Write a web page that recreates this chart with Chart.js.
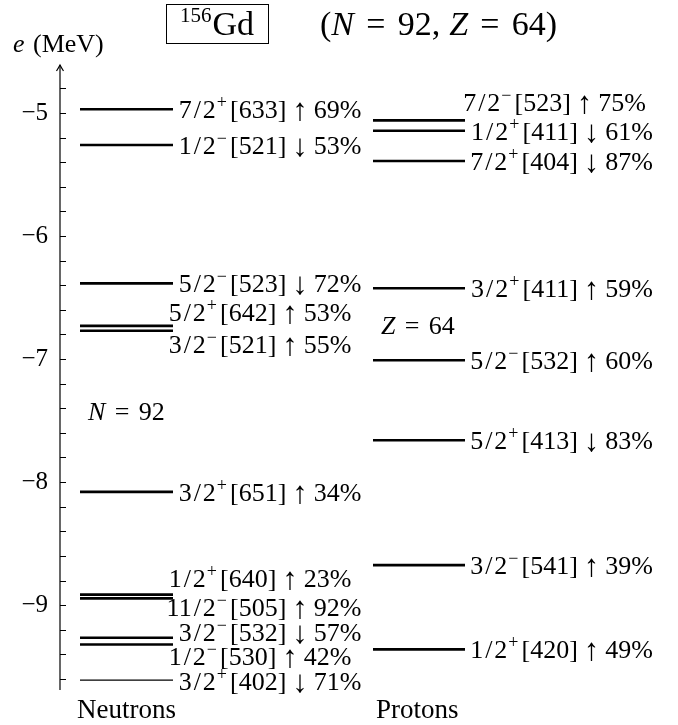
<!DOCTYPE html>
<html>
<head>
<meta charset="utf-8">
<script src="https://cdn.jsdelivr.net/npm/chart.js@4.4.0/dist/chart.umd.min.js"></script>
<style>
  body { margin: 0; background: #fff; }
  #wrap { width: 678px; height: 725px; }
</style>
</head>
<body>
<div id="wrap"><canvas id="levels" width="678" height="725"></canvas></div>
<script>
// 準位エネルギー (MeV) とラベル
const neutronEnergies = [-4.97, -5.26, -6.385, -6.73, -6.77, -8.08, -8.915, -8.945, -9.265, -9.32, -9.61];
const neutronLabels = [
  "7/2+[633]↑69%", "1/2−[521]↓53%", "5/2−[523]↓72%", "5/2+[642]↑53%",
  "3/2−[521]↑55%", "3/2+[651]↑34%", "1/2+[640]↑23%", "11/2−[505]↑92%",
  "3/2−[532]↓57%", "1/2−[530]↑42%", "3/2+[402]↓71%"
];
const protonEnergies = [-5.06, -5.145, -5.39, -6.425, -7.01, -7.66, -8.675, -9.36];
const protonLabels = [
  "7/2−[523]↑75%", "1/2+[411]↓61%", "7/2+[404]↓87%", "3/2+[411]↑59%",
  "5/2−[532]↑60%", "5/2+[413]↓83%", "3/2−[541]↑39%", "1/2+[420]↑49%"
];
const yTickValues = [-5, -6, -7, -8, -9];
const yMinorStep = 0.2;
const columnNames = ["Neutrons", "Protons"];
const gapLabels = ["N = 92", "Z = 64"];

// レイアウト (x は 0〜6.18 の任意単位)
const Y_MIN = -9.69, Y_MAX = -4.61, X_MAX = 6.18;
const colLine = [[0.2, 1.13], [3.13, 4.05]];
const colLabelRight = [3.015, 5.93];
const neutronShiftX = [0, 0, 0, -10, -10, 0, -10, 0, 0, -10, 0];
const neutronShiftY = [0, 0, 0, -14, 13, 0, -17, 9, -6, 12, 1];
const protonShiftX = [-7, 0, 0, 0, 0, 0, 0, 0];
const protonShiftY = [-18, 0, 0, 0, 0, 0, 0, 0];
const thinNeutron = [10];

const SERIF = '"Liberation Serif", "DejaVu Serif", serif';
const LABEL_SIZE = 26;

function levelDatasets(energies, col, thin) {
  return energies.map((e, i) => ({
    data: [{ x: colLine[col][0], y: e }, { x: colLine[col][1], y: e }],
    borderColor: "#000",
    borderWidth: thin.includes(i) ? 1.2 : 2.6,
    pointRadius: 0,
    showLine: true,
    fill: false,
  }));
}

// ラベル描画 (7/2^+[633] ↑ 69%)
function drawLevelLabel(ctx, text, xRight, yMid) {
  const m = text.match(/^(\d+)\/(\d)([+−])(\[\d+\])([↑↓])(\d+%)$/);
  const main = LABEL_SIZE + "px " + SERIF;
  const sup = Math.round(LABEL_SIZE * 0.7) + "px " + SERIF;
  const arrow = Math.round(LABEL_SIZE * 1.2) + "px " + SERIF;
  const parts = [
    { t: m[1], f: main },
    { gap: 2 },
    { t: "/", f: main },
    { gap: 2 },
    { t: m[2], f: main },
    { gap: 1 },
    { t: m[3], f: sup, dy: -10 },
    { gap: 3 },
    { t: m[4], f: main },
    { gap: 6 },
    { t: m[5], f: arrow, dy: 2 },
    { gap: 6 },
    { t: m[6], f: main },
  ];
  let total = 0;
  parts.forEach((p) => {
    if (p.gap) { p.w = p.gap; } else { ctx.font = p.f; p.w = ctx.measureText(p.t).width; }
    total += p.w;
  });
  let x = xRight - total;
  const base = yMid + 9;
  parts.forEach((p) => {
    if (!p.gap) {
      ctx.font = p.f;
      ctx.fillText(p.t, x, base + (p.dy || 0));
    }
    x += p.w;
  });
}

// "N = 92" のようにイタリック記号付きで描画
function drawMathEq(ctx, text, x, base, size) {
  const [sym, val] = text.split(" = ");
  const gap = size * 0.36;
  ctx.font = "italic " + size + "px " + SERIF;
  ctx.fillText(sym, x, base);
  x += ctx.measureText(sym).width + gap;
  ctx.font = size + "px " + SERIF;
  ctx.fillText("=", x, base);
  x += ctx.measureText("=").width + gap;
  ctx.fillText(val, x, base);
  return x + ctx.measureText(val).width;
}

const decorPlugin = {
  id: "decor",
  afterDraw(chart) {
    const ctx = chart.ctx;
    const ys = chart.scales.y;
    const xs = chart.scales.x;
    const area = chart.chartArea;
    ctx.save();
    ctx.fillStyle = "#000";
    ctx.strokeStyle = "#000";

    // 縦軸と矢印
    const ax = area.left;
    ctx.lineWidth = 1.2;
    ctx.beginPath();
    ctx.moveTo(ax, area.bottom);
    ctx.lineTo(ax, area.top);
    ctx.stroke();
    ctx.beginPath();
    ctx.moveTo(ax - 3.5, area.top + 6);
    ctx.quadraticCurveTo(ax - 1, area.top + 2, ax, area.top);
    ctx.quadraticCurveTo(ax + 1, area.top + 2, ax + 3.5, area.top + 6);
    ctx.stroke();

    // 目盛り
    ctx.lineWidth = 1;
    for (let v = -9.6; v <= -4.79; v += yMinorStep) {
      const y = Math.round(ys.getPixelForValue(v)) + 0.5;
      ctx.beginPath();
      ctx.moveTo(ax, y);
      ctx.lineTo(ax + 6, y);
      ctx.stroke();
    }

    // 準位ラベル
    ctx.textAlign = "left";
    ctx.textBaseline = "alphabetic";
    neutronLabels.forEach((t, i) => {
      drawLevelLabel(ctx, t, xs.getPixelForValue(colLabelRight[0]) + neutronShiftX[i],
        ys.getPixelForValue(neutronEnergies[i]) + neutronShiftY[i]);
    });
    protonLabels.forEach((t, i) => {
      drawLevelLabel(ctx, t, xs.getPixelForValue(colLabelRight[1]) + protonShiftX[i],
        ys.getPixelForValue(protonEnergies[i]) + protonShiftY[i]);
    });

    // N = 92, Z = 64
    drawMathEq(ctx, gapLabels[0], 88, ys.getPixelForValue(-7.42) + 9, 26);
    drawMathEq(ctx, gapLabels[1], 381, ys.getPixelForValue(-6.72) + 9, 26);

    // 列名
    ctx.font = "27px " + SERIF;
    ctx.fillText(columnNames[0], 77, 718);
    ctx.fillText(columnNames[1], 376, 718);

    // 軸ラベル e (MeV)
    ctx.font = "italic 26px " + SERIF;
    ctx.fillText("e", 13, 52);
    ctx.font = "26px " + SERIF;
    ctx.fillText("(MeV)", 33, 52);

    // タイトル
    const tb = 35;
    ctx.font = "21px " + SERIF;
    const supW = ctx.measureText("156").width;
    ctx.font = "34px " + SERIF;
    const gdW = ctx.measureText("Gd").width;
    const boxL = 166, boxR = 268;
    const tx = (boxL + boxR - supW - gdW - 1) / 2;
    ctx.font = "21px " + SERIF;
    ctx.fillText("156", tx, tb - 13);
    ctx.font = "34px " + SERIF;
    ctx.fillText("Gd", tx + supW + 1, tb);
    ctx.lineWidth = 1;
    ctx.strokeRect(boxL + 0.5, 4.5, boxR - boxL, 39);

    ctx.fillText("(", 320, tb);
    let x = 320 + ctx.measureText("(").width;
    x = drawMathEq(ctx, "N = 92", x, tb, 34);
    ctx.font = "34px " + SERIF;
    ctx.fillText(",", x, tb);
    x += ctx.measureText(",").width + 9;
    x = drawMathEq(ctx, "Z = 64", x, tb, 34);
    ctx.font = "34px " + SERIF;
    ctx.fillText(")", x, tb);
    ctx.restore();
  },
};

const datasets = [
  ...levelDatasets(neutronEnergies, 0, thinNeutron),
  ...levelDatasets(protonEnergies, 1, []),
];

new Chart(document.getElementById("levels").getContext("2d"), {
  type: "scatter",
  data: { datasets: datasets },
  options: {
    responsive: false,
    animation: false,
    layout: { padding: { top: 65, bottom: 35, left: 0, right: 0 } },
    plugins: { legend: { display: false }, tooltip: { enabled: false } },
    scales: {
      x: { type: "linear", min: 0, max: X_MAX, display: false },
      y: {
        type: "linear",
        min: Y_MIN,
        max: Y_MAX,
        grid: { display: false, drawTicks: false },
        border: { display: false },
        afterFit(scale) { scale.width = 60; },
        afterBuildTicks(scale) { scale.ticks = yTickValues.map((v) => ({ value: v })); },
        ticks: {
          padding: 12,
          color: "#000",
          font: { family: SERIF, size: 25 },
          callback: (v) => "−" + Math.abs(v),
        },
      },
    },
  },
  plugins: [decorPlugin],
});
</script>
</body>
</html>
